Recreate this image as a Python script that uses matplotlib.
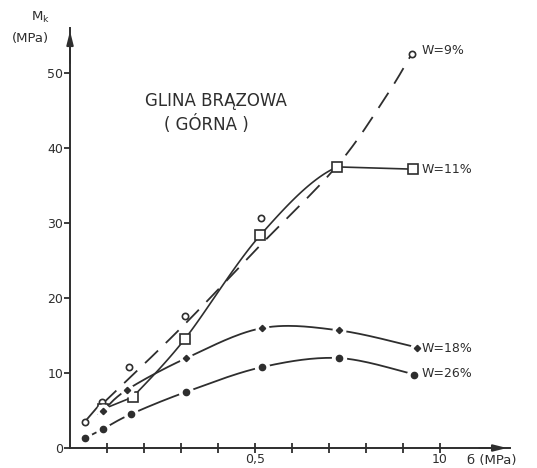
import numpy as np
import matplotlib.pyplot as plt

# values (sigma in MPa, Mk in MPa)
w9_x = [0.04, 0.087, 0.16, 0.31, 0.517, 0.925]
w9_y = [3.5, 6.2, 10.8, 17.6, 30.7, 52.6]
# hand-drawn trend line of the W=9% series
w9_trend_x = [0.09, 0.30, 0.50, 0.72, 0.85, 0.925]
w9_trend_y = [6.0, 16.0, 26.3, 37.5, 46.5, 52.6]

w11_x = [0.09, 0.17, 0.31, 0.515, 0.723, 0.928]
w11_y = [5.2, 6.8, 14.5, 28.4, 37.5, 37.2]

w18_x = [0.09, 0.155, 0.315, 0.52, 0.727, 0.94]
w18_y = [5.0, 7.8, 12.0, 16.0, 15.7, 13.4]

w26_x = [0.04, 0.088, 0.164, 0.315, 0.52, 0.728, 0.932]
w26_y = [1.3, 2.5, 4.5, 7.5, 10.8, 12.0, 9.8]

labels = ["W=9%", "W=11%", "W=18%", "W=26%"]
label_y = [53.0, 37.2, 13.3, 9.9]

ink = "#2e2e2e"


def smooth(xs, ys, n=30):
    # catmull-rom through the given points
    p = np.column_stack([xs, ys]).astype(float)
    p = np.vstack([p[0], p, p[-1]])
    out = []
    for i in range(1, len(p) - 2):
        p0, p1, p2, p3 = p[i - 1], p[i], p[i + 1], p[i + 2]
        t = np.linspace(0, 1, n)[:, None]
        seg = 0.5 * ((2 * p1) + (-p0 + p2) * t + (2 * p0 - 5 * p1 + 4 * p2 - p3) * t ** 2
                     + (-p0 + 3 * p1 - 3 * p2 + p3) * t ** 3)
        out.append(seg)
    out = np.vstack(out)
    return out[:, 0], out[:, 1]


fig = plt.figure(figsize=(5.37, 4.68), dpi=100)
ax = fig.add_axes([0.1304, 0.0427, 0.819, 0.897])
ax.set_xlim(0, 1.19)
ax.set_ylim(0, 56)

# W = 9 %
ax.plot(w9_x[:2], w9_y[:2], color=ink, lw=1.3)
tx, ty = smooth(w9_trend_x, w9_trend_y)
ax.plot(tx, ty, color=ink, lw=1.3, dashes=(10, 6))
ax.plot(w9_x, w9_y, 'o', ms=4.5, mfc='white', mec=ink, mew=1.2)

# W = 11 %
ax.plot(w11_x[:2], w11_y[:2], color=ink, lw=1.2)
sx, sy = smooth(w11_x[1:], w11_y[1:])
keep = sx <= w11_x[4]
ax.plot(sx[keep], sy[keep], color=ink, lw=1.2)
ax.plot(w11_x[4:], w11_y[4:], color=ink, lw=1.2)
ax.plot(w11_x, w11_y, 's', ms=7, mfc='white', mec=ink, mew=1.2)

# W = 18 %
sx, sy = smooth(w18_x, w18_y)
ax.plot(sx, sy, color=ink, lw=1.3)
ax.plot(w18_x, w18_y, 'o', ms=9, color='white')
ax.plot(w18_x, w18_y, 'D', ms=3.2, color=ink)

# W = 26 %
sx, sy = smooth(w26_x, w26_y)
ax.plot(sx, sy, color=ink, lw=1.3)
ax.plot(w26_x, w26_y, 'o', ms=10, color='white')
ax.plot(w26_x, w26_y, 'o', ms=4.5, color=ink)

for lab, ly in zip(labels, label_y):
    ax.text(0.952, ly, lab, fontsize=9, color=ink, va='center', ha='left')

ax.text(0.395, 46.3, "GLINA BRĄZOWA", fontsize=12, color=ink, ha='center', va='center')
ax.text(0.37, 43.1, "( GÓRNA )", fontsize=12, color=ink, ha='center', va='center')

# axes
for s in ['top', 'right']:
    ax.spines[s].set_visible(False)
ax.spines['left'].set_color(ink)
ax.spines['bottom'].set_color(ink)
ax.spines['left'].set_linewidth(1.4)
ax.spines['bottom'].set_linewidth(1.4)
ax.annotate('', xy=(1.19, 0), xytext=(1.10, 0), annotation_clip=False,
            arrowprops=dict(arrowstyle='-|>,head_length=0.8,head_width=0.2', color=ink, lw=1.4))
ax.annotate('', xy=(0, 56), xytext=(0, 51), annotation_clip=False,
            arrowprops=dict(arrowstyle='-|>,head_length=0.8,head_width=0.2', color=ink, lw=1.4))

ax.set_xticks(np.arange(1, 11) / 10)
ax.set_xticklabels(['', '', '', '', '0,5', '', '', '', '', '10'])
ax.set_yticks([0, 10, 20, 30, 40, 50])
ax.set_yticklabels(['0', '10', '20', '30', '40', '50'])
ax.tick_params(axis='x', direction='inout', length=7, width=1.3, color=ink,
               labelsize=9, labelcolor=ink, pad=0)
ax.tick_params(axis='y', direction='out', length=4, width=1.3, color=ink,
               labelsize=9, labelcolor=ink, pad=1)

ax.text(1.075, -1.6, "б (MPa)", fontsize=9.5, color=ink, ha='left', va='center')
fig.text(0.075, 0.962, r"M$_\mathregular{k}$", fontsize=9.5, color=ink, ha='center', va='center')
fig.text(0.056, 0.917, "(MPa)", fontsize=9.5, color=ink, ha='center', va='center')

fig.savefig("out.png", dpi=100, facecolor='white')
